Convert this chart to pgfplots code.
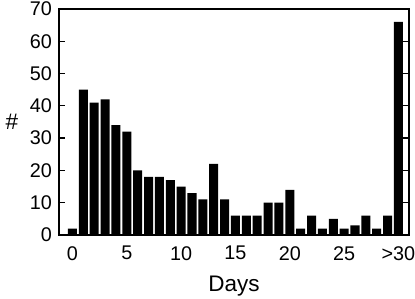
\documentclass[border=0pt]{standalone}
\usepackage{fontspec}
\setmainfont{Liberation Sans}
\usepackage{pgfplots}
\pgfplotsset{compat=1.18}
\usetikzlibrary{calc}

\begin{document}
\begin{tikzpicture}
\begin{axis}[
  scale only axis,
  width=350pt, height=226pt,
  ybar, bar width=0.83, bar shift=0pt,
  xmin=-1.24, xmax=30.97,
  ymin=0, ymax=70,
  xtick={0,5,10,15,20,25,30},
  xticklabels={0,5,10,15,20,25,{>30}},
  ytick={0,10,...,70},
  axis line style={line width=1.3pt},
  major tick length=6pt,
  xtick style={draw=none},
  ytick style={line width=1.3pt, black},
  tick align=inside,
  /pgf/number format/assume math mode=true,
  tick label style={font=\fontsize{19.8}{22}\selectfont},
  xticklabel style={anchor=north, inner sep=0pt, yshift=-11pt},
  yticklabel style={anchor=east, inner sep=0pt, xshift=-7pt},
  xlabel={Days},
  ylabel={\#},
  label style={font=\fontsize{22.5}{24}\selectfont},
  xlabel style={at={(rel axis cs:0.5,0)}, anchor=center, yshift=-51pt},
  ylabel style={at={(rel axis cs:0,0.5)}, anchor=center, rotate=-90, xshift=-47pt},
]
\addplot[draw=none, fill=black] coordinates {
  (0,2) (1,45) (2,41) (3,42) (4,34) (5,32) (6,20) (7,18) (8,18) (9,17)
  (10,15) (11,13) (12,11) (13,22) (14,11) (15,6) (16,6) (17,6) (18,10) (19,10)
  (20,14) (21,2) (22,6) (23,2) (24,5) (25,2) (26,3) (27,6) (28,2) (29,6) (30,66)};
\coordinate (bl) at (rel axis cs:0,0);
\coordinate (tr) at (rel axis cs:1,1);
\end{axis}
\pgfresetboundingbox
\path[use as bounding box] ($(bl)+(-59pt,-64pt)$) rectangle ($(tr)+(6pt,9pt)$);
\end{tikzpicture}
\end{document}
